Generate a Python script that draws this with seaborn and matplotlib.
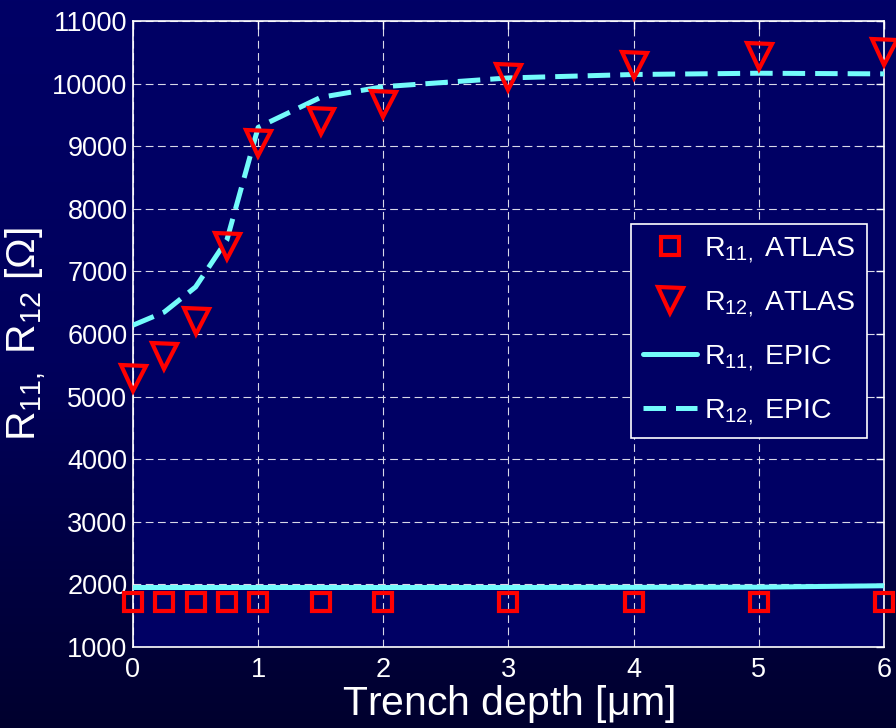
import numpy as np
import pandas as pd
import matplotlib
matplotlib.use("Agg")
import matplotlib.pyplot as plt
import seaborn as sns
from matplotlib.colors import LinearSegmentedColormap

# ---- data ----
depth = [0, 0.25, 0.5, 0.75, 1, 1.5, 2, 3, 4, 5, 6]
r11_atlas = [1720, 1720, 1720, 1720, 1720, 1720, 1720, 1720, 1720, 1720, 1720]
r12_atlas = [5300, 5650, 6200, 7400, 9050, 9400, 9680, 10100, 10300, 10440, 10510]
r11_epic = [1950, 1950, 1950, 1950, 1950, 1950, 1950, 1950, 1952, 1955, 1978]
r12_epic = [6140, 6350, 6750, 7500, 9300, 9780, 9950, 10090, 10145, 10165, 10155]
x_ticks = [0, 1, 2, 3, 4, 5, 6]
y_ticks = [1000, 2000, 3000, 4000, 5000, 6000, 7000, 8000, 9000, 10000, 11000]
labels = [r"R$_{11,}$ ATLAS", r"R$_{12,}$ ATLAS", r"R$_{11,}$ EPIC", r"R$_{12,}$ EPIC"]
x_label = r"Trench depth [$\mu$m]"
y_label = r"R$_{11,}$ R$_{12}$ [$\Omega$]"

df = pd.DataFrame({"depth": depth, "r11_atlas": r11_atlas, "r12_atlas": r12_atlas,
                   "r11_epic": r11_epic, "r12_epic": r12_epic})

sns.set_style("white")
plt.rcParams["font.family"] = ["Liberation Sans", "DejaVu Sans"]
plt.rcParams["mathtext.fontset"] = "custom"
plt.rcParams["mathtext.rm"] = "Liberation Sans"
plt.rcParams["mathtext.it"] = "Liberation Sans"
plt.rcParams["mathtext.default"] = "regular"
plt.rcParams["text.color"] = "white"

navy_ax = "#000064"
cyan = "#73fbfb"
red = "#ff0000"

fig = plt.figure(figsize=(8.96, 7.28), dpi=100)
fig.patch.set_facecolor("#000050")
bg = fig.add_axes([0, 0, 1, 1], zorder=-10)
bg.axis("off")
grad = np.linspace(0, 1, 256).reshape(-1, 1)
cmap = LinearSegmentedColormap.from_list("bg", ["#000066", "#00005c", "#00002e"])
bg.imshow(grad, aspect="auto", cmap=cmap, extent=[0, 1, 0, 1])

ax = fig.add_axes([0.1484, 0.1113, 0.8382, 0.8599])
ax.set_facecolor(navy_ax)

sns.lineplot(data=df, x="depth", y="r11_atlas", ax=ax, color=red, linestyle="none",
             marker="s", markersize=13, markerfacecolor="none", markeredgecolor=red,
             markeredgewidth=3, label=labels[0], zorder=5, clip_on=False)
sns.lineplot(data=df, x="depth", y="r12_atlas", ax=ax, color=red, linestyle="none",
             marker="v", markersize=18, markerfacecolor="none", markeredgecolor=red,
             markeredgewidth=3, label=labels[1], zorder=5, clip_on=False)
sns.lineplot(data=df, x="depth", y="r11_epic", ax=ax, color=cyan, linewidth=3.6,
             label=labels[2], zorder=4)
sns.lineplot(data=df, x="depth", y="r12_epic", ax=ax, color=cyan, linewidth=3.6,
             linestyle=(0, (4.5, 2)), label=labels[3], zorder=4)

ax.set_xlim(0, 6)
ax.set_ylim(1000, 11000)
ax.set_xticks(x_ticks)
ax.set_yticks(y_ticks)
ax.set_xticklabels([str(t) for t in x_ticks])
ax.set_yticklabels([str(t) for t in y_ticks])
ax.tick_params(axis="both", direction="in", colors="white", labelcolor="white",
               labelsize=19.5, length=6, width=1, top=True, right=True)
ax.tick_params(axis="x", pad=7)
ax.tick_params(axis="y", pad=4)
for s in ax.spines.values():
    s.set_color("white")
    s.set_linewidth(1.2)
    s.set_visible(True)
ax.grid(True, color="#d8d8e8", linewidth=0.8, linestyle=(0, (7, 4)))
ax.set_axisbelow(True)

ax.set_xlabel(x_label, fontsize=29.5, color="white", labelpad=0)
ax.set_ylabel(y_label, fontsize=29.5, color="white", labelpad=2)

leg = ax.legend(loc="upper right", bbox_to_anchor=(0.977, 0.676), borderaxespad=0,
                fontsize=20.5, frameon=True, fancybox=False, shadow=False,
                facecolor=navy_ax, edgecolor="white", framealpha=1,
                handlelength=1.9, handletextpad=0.25, labelspacing=0.85,
                borderpad=0.4, numpoints=1)
leg.get_frame().set_linewidth(1.2)
for t in leg.get_texts():
    t.set_color("white")

fig.savefig("out.png", dpi=100, facecolor=fig.get_facecolor())
